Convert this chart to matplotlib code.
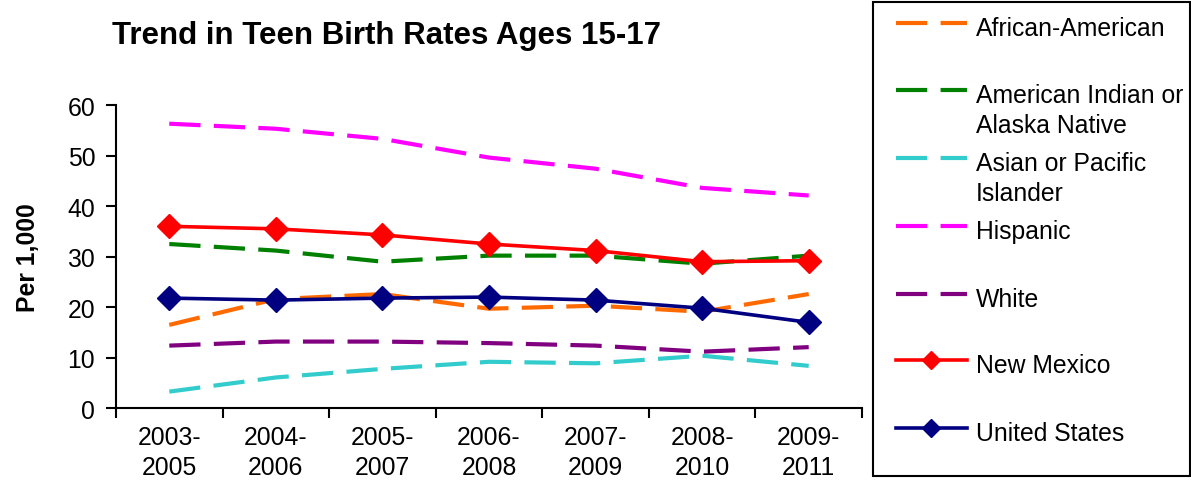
import numpy as np
import matplotlib.pyplot as plt
from matplotlib.lines import Line2D
from matplotlib.patches import Rectangle

plt.rcParams['font.family'] = ['Liberation Sans', 'DejaVu Sans']

periods = ['2003-\n2005', '2004-\n2006', '2005-\n2007', '2006-\n2008',
           '2007-\n2009', '2008-\n2010', '2009-\n2011']

african_american = [16.5, 21.6, 22.6, 19.7, 20.3, 19.1, 22.6]
american_indian = [32.5, 31.2, 29.0, 30.2, 30.2, 28.6, 30.2]
asian_pacific = [3.3, 6.1, 7.8, 9.2, 8.9, 10.4, 8.4]
hispanic = [56.3, 55.3, 53.3, 49.6, 47.4, 43.6, 42.1]
white = [12.4, 13.2, 13.2, 12.9, 12.4, 11.2, 12.1]
new_mexico = [36.0, 35.5, 34.3, 32.5, 31.2, 29.0, 29.2]
united_states = [21.8, 21.4, 21.8, 22.0, 21.4, 19.8, 17.0]

dashed = [
    ('African-American', african_american, '#FF6A00'),
    ('American Indian or\nAlaska Native', american_indian, '#008000'),
    ('Asian or Pacific\nIslander', asian_pacific, '#33CCCC'),
    ('Hispanic', hispanic, '#FF00FF'),
    ('White', white, '#800080'),
]
solid = [
    ('New Mexico', new_mexico, '#FF0000'),
    ('United States', united_states, '#000080'),
]

fig = plt.figure(figsize=(11.91, 4.89), dpi=100)
ax = fig.add_axes([116 / 1191, 1 - 409.3 / 489, 746 / 1191, (409.3 - 106) / 489])

x = np.arange(len(periods))
for name, vals, col in dashed:
    ax.plot(x, vals, color=col, lw=3, dashes=[7.5, 3.2], solid_capstyle='butt')
for name, vals, col in solid:
    ax.plot(x, vals, color=col, lw=2.6, marker='D', markersize=12.5)

ax.set_xlim(-0.5, len(periods) - 0.5)
ax.set_ylim(0, 60)
ax.set_yticks(np.arange(0, 61, 10))
ax.set_xticks(x)
ax.set_xticklabels(periods)
for lab in ax.get_xticklabels():
    lab.set_linespacing(1.3)
ax.set_xticks(np.arange(-0.5, len(periods)), minor=True)
ax.tick_params(axis='x', which='major', length=0, labelsize=17.8, pad=12)
ax.tick_params(axis='x', which='minor', length=7, width=1.5, direction='out')
ax.tick_params(axis='y', length=7, width=1.5, labelsize=17.8, pad=8)
for s in ['top', 'right']:
    ax.spines[s].set_visible(False)
for s in ['left', 'bottom']:
    ax.spines[s].set_linewidth(1.5)

ax.set_ylabel('Per 1,000', fontsize=17.8, fontweight='bold', labelpad=20)
fig.text(387 / 1191, 1 - 44 / 489, 'Trend in Teen Birth Rates Ages 15-17',
         fontsize=22.5, fontweight='bold', ha='center', va='baseline')

# legend box
fig.add_artist(Rectangle((873 / 1191, 1 - 477 / 489), 317 / 1191, 474 / 489,
                         transform=fig.transFigure, fill=False, ec='black', lw=1.5))
entries = dashed + solid
ys = [24, 91, 159, 227, 295, 361, 429]
for (name, vals, col), yp in zip(entries, ys):
    yf = 1 - yp / 489
    if (name, vals, col) in solid:
        fig.add_artist(Line2D([896 / 1191, 967 / 1191], [yf, yf], color=col, lw=2.6,
                              transform=fig.transFigure))
        fig.add_artist(Line2D([931.5 / 1191], [yf], color=col, marker='D', markersize=9.5,
                              transform=fig.transFigure))
    else:
        fig.add_artist(Line2D([896 / 1191, 967 / 1191], [yf, yf], color=col, lw=3,
                              dashes=[7.5, 3.2], transform=fig.transFigure))
    fig.text(976 / 1191, yf + 7 / 489, name, fontsize=17.8, ha='left', va='top',
             linespacing=1.3)

fig.savefig('out.png', dpi=100)
